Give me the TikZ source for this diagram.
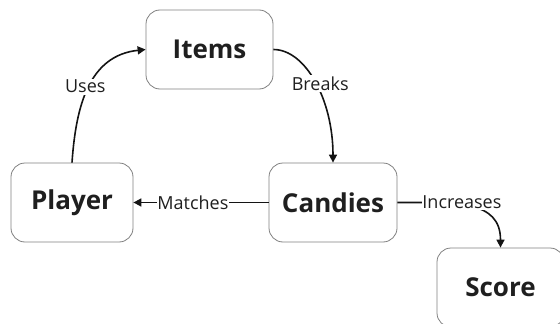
\documentclass[tikz,border=0pt]{standalone}
\usepackage{fontspec}
\setmainfont{Open Sans}
\usetikzlibrary{arrows.meta}
\begin{document}
\begin{tikzpicture}[x=1pt,y=-1pt,
  box/.style={draw=black!50, line width=0.8pt, rounded corners=14pt, minimum height=79pt, inner sep=0pt, font=\fontsize{26}{30}\selectfont\bfseries, text=black!88},
  lbl/.style={fill=white, inner sep=1.5pt, font=\fontsize{18}{21}\selectfont, text=black!88},
  edge/.style={draw=black!92, line width=1.6pt, -{Triangle[length=8pt,width=8pt]}}
]
\useasboundingbox (0,0) rectangle (560,324);
\clip (0,0) rectangle (560,324);
\node[box, minimum width=127pt] (items) at (209.5,49.5) {Items};
\node[box, minimum width=122pt] (player) at (72,202.5) {Player};
\node[box, minimum width=128pt] (candies) at (333,202.5) {Candies};
\node[box, minimum width=127pt] (score) at (500.5,287.5) {Score};

\draw[edge] (player.north) .. controls +(4,-58) and +(-56,6) .. node[lbl, pos=0.5, xshift=-4pt] {Uses} (items.west);
\draw[edge] (items.east) .. controls +(32,0) and +(0,-63) .. node[lbl, pos=0.5, xshift=5pt, yshift=-1pt] {Breaks} (candies.north);
\draw[edge] (candies.west) -- node[lbl, pos=0.56, inner sep=0.5pt] {Matches} (player.east);
\draw[edge] (candies.east) .. controls +(58,0) and +(0,-48) .. node[lbl, pos=0.45, inner sep=0.5pt, xshift=-3pt, yshift=3pt] {Increases} (score.north);
\end{tikzpicture}
\end{document}
